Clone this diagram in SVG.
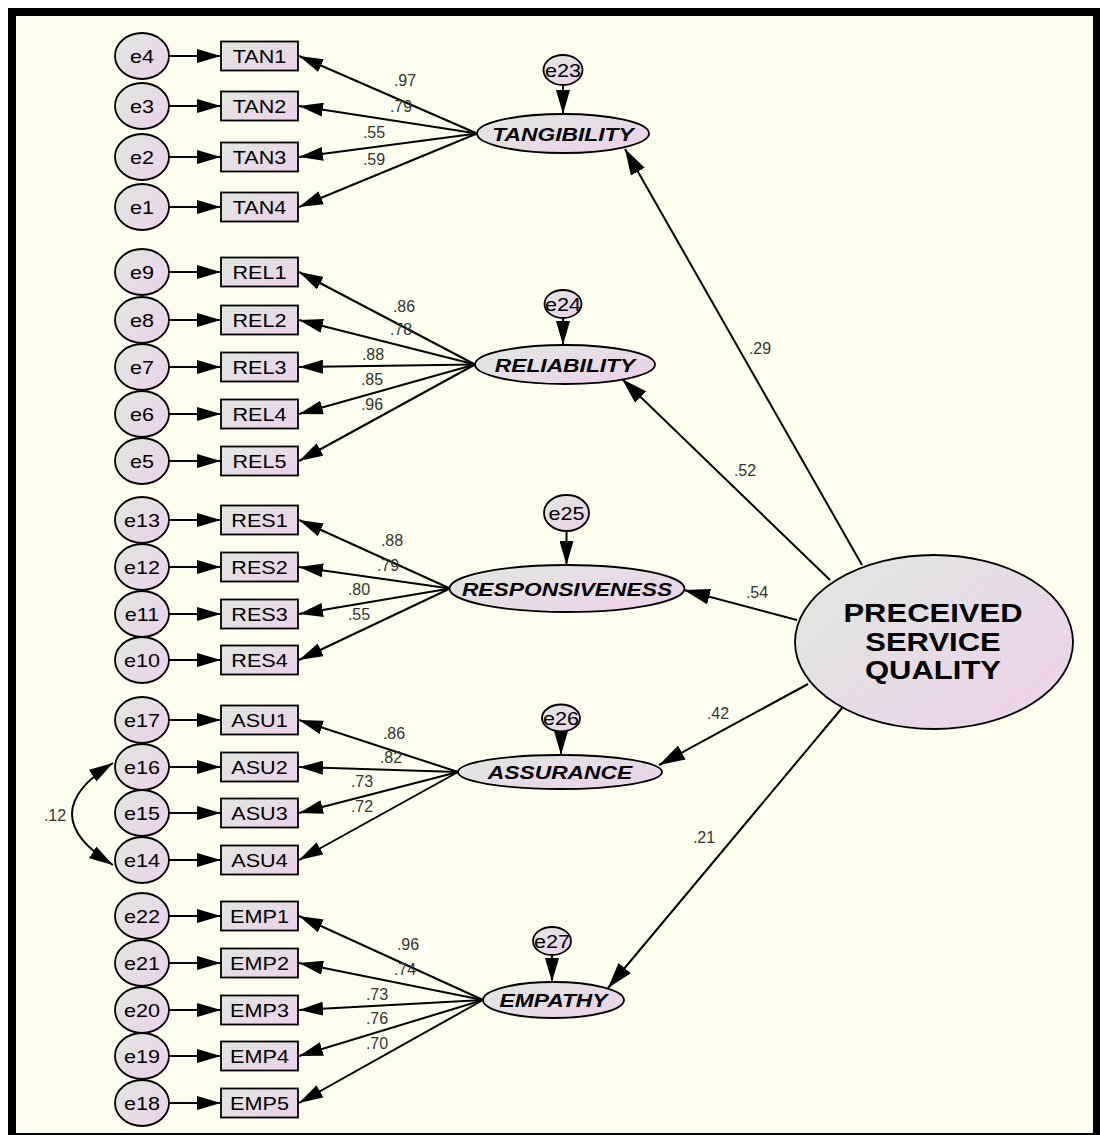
<svg xmlns="http://www.w3.org/2000/svg" width="1100" height="1135" viewBox="0 0 1100 1135">
  <defs>
    <linearGradient id="fillG" x1="0.1" y1="0.2" x2="0.9" y2="0.8">
      <stop offset="0" stop-color="#e1e5e1"/>
      <stop offset="1" stop-color="#ecd3e9"/>
    </linearGradient>
    <marker id="ah" markerUnits="userSpaceOnUse" markerWidth="24" markerHeight="14" refX="24" refY="7" orient="auto-start-reverse">
      <path d="M0,0 L24,7 L0,14 Z" fill="#000"/>
    </marker>
    <marker id="ahBig" markerUnits="userSpaceOnUse" markerWidth="26" markerHeight="16" refX="26" refY="8" orient="auto">
      <path d="M0,0 L26,8 L0,16 Z" fill="#000"/>
    </marker>
    <style>
      .shape { fill: url(#fillG); stroke: #000; stroke-width: 1.8; }
      .lbl { font-family: "Liberation Sans", Arial, sans-serif; font-size: 18px; fill: #000; text-anchor: middle; }
      .lat { font-family: "Liberation Sans", Arial, sans-serif; font-size: 19px; font-weight: bold; font-style: italic; fill: #000; text-anchor: middle; }
      .big { font-family: "Liberation Sans", Arial, sans-serif; font-size: 25px; font-weight: bold; fill: #000; text-anchor: middle; }
      .coef { font-family: "Liberation Sans", Arial, sans-serif; font-size: 16px; fill: #333; text-anchor: middle; }
      .conn line, .conn path { stroke: #000; stroke-width: 2; fill: none; marker-end: url(#ah); }
      .conn .sp { marker-end: url(#ahBig); }
    </style>
  </defs>

  <!-- frame and canvas -->
  <rect x="0" y="0" width="1100" height="1135" fill="#fff"/>
  <rect x="8" y="8" width="1092" height="1127" fill="#000"/>
  <rect x="16" y="16" width="1077" height="1117" fill="#feffef"/>

  <!-- connectors -->
  <g id="connectors" class="conn">
    <!-- error terms to indicators -->
    <line x1="169" y1="56" x2="221" y2="56"/>
    <line x1="169" y1="106" x2="221" y2="106"/>
    <line x1="169" y1="157" x2="221" y2="157"/>
    <line x1="169" y1="207" x2="221" y2="207"/>
    <line x1="169" y1="272" x2="221" y2="272"/>
    <line x1="169" y1="320" x2="221" y2="320"/>
    <line x1="169" y1="367" x2="221" y2="367"/>
    <line x1="169" y1="414" x2="221" y2="414"/>
    <line x1="169" y1="461" x2="221" y2="461"/>
    <line x1="169" y1="520" x2="221" y2="520"/>
    <line x1="169" y1="567" x2="221" y2="567"/>
    <line x1="169" y1="614" x2="221" y2="614"/>
    <line x1="169" y1="660" x2="221" y2="660"/>
    <line x1="169" y1="720" x2="221" y2="720"/>
    <line x1="169" y1="767" x2="221" y2="767"/>
    <line x1="169" y1="813" x2="221" y2="813"/>
    <line x1="169" y1="860" x2="221" y2="860"/>
    <line x1="169" y1="916" x2="221" y2="916"/>
    <line x1="169" y1="963" x2="221" y2="963"/>
    <line x1="169" y1="1010" x2="221" y2="1010"/>
    <line x1="169" y1="1056" x2="221" y2="1056"/>
    <line x1="169" y1="1103" x2="221" y2="1103"/>
    <!-- loadings -->
    <line x1="477" y1="133.5" x2="299" y2="56"/>
    <line x1="477" y1="133.5" x2="299" y2="106"/>
    <line x1="477" y1="133.5" x2="299" y2="157"/>
    <line x1="477" y1="133.5" x2="299" y2="207"/>
    <line x1="475" y1="364.5" x2="299" y2="272"/>
    <line x1="475" y1="364.5" x2="299" y2="320"/>
    <line x1="475" y1="364.5" x2="299" y2="367"/>
    <line x1="475" y1="364.5" x2="299" y2="414"/>
    <line x1="475" y1="364.5" x2="299" y2="461"/>
    <line x1="450" y1="588.5" x2="299" y2="520"/>
    <line x1="450" y1="588.5" x2="299" y2="567"/>
    <line x1="450" y1="588.5" x2="299" y2="614"/>
    <line x1="450" y1="588.5" x2="299" y2="660"/>
    <line x1="458" y1="772" x2="299" y2="720"/>
    <line x1="458" y1="772" x2="299" y2="767"/>
    <line x1="458" y1="772" x2="299" y2="813"/>
    <line x1="458" y1="772" x2="299" y2="860"/>
    <line x1="483" y1="1000" x2="299" y2="916"/>
    <line x1="483" y1="1000" x2="299" y2="963"/>
    <line x1="483" y1="1000" x2="299" y2="1010"/>
    <line x1="483" y1="1000" x2="299" y2="1056"/>
    <line x1="483" y1="1000" x2="299" y2="1103"/>
    <!-- disturbances to latent factors -->
    <line x1="563" y1="85" x2="563" y2="114"/>
    <line x1="563" y1="318" x2="563" y2="345"/>
    <line x1="566.5" y1="531" x2="566.5" y2="565"/>
    <line x1="561" y1="731.5" x2="561" y2="755"/>
    <line x1="552" y1="955" x2="552" y2="982"/>
    <!-- second-order paths -->
    <line class="sp" x1="862" y1="565" x2="625" y2="149"/>
    <line class="sp" x1="830" y1="580" x2="622" y2="379"/>
    <line class="sp" x1="797" y1="620" x2="684" y2="590"/>
    <line class="sp" x1="808" y1="684" x2="659" y2="765"/>
    <line class="sp" x1="842" y1="708" x2="608" y2="988"/>
    <!-- error covariance e16 / e14 -->
    <path d="M113,763 Q31,814 113,865" style="marker-start:url(#ah)"/>
  </g>

  <!-- path coefficients -->
  <g id="coefficients">
    <text class="coef" x="405" y="85.5">.97</text>
    <text class="coef" x="401" y="111.5">.79</text>
    <text class="coef" x="374" y="137.5">.55</text>
    <text class="coef" x="374" y="164.5">.59</text>
    <text class="coef" x="404" y="311.5">.86</text>
    <text class="coef" x="401" y="334.5">.78</text>
    <text class="coef" x="373" y="359.5">.88</text>
    <text class="coef" x="372" y="384.5">.85</text>
    <text class="coef" x="372" y="409.5">.96</text>
    <text class="coef" x="392" y="545.5">.88</text>
    <text class="coef" x="388" y="570.5">.79</text>
    <text class="coef" x="359" y="594.5">.80</text>
    <text class="coef" x="359" y="619.5">.55</text>
    <text class="coef" x="394" y="738.5">.86</text>
    <text class="coef" x="391" y="762.5">.82</text>
    <text class="coef" x="362" y="786.5">.73</text>
    <text class="coef" x="362" y="811.5">.72</text>
    <text class="coef" x="408" y="949.5">.96</text>
    <text class="coef" x="405" y="974.5">.74</text>
    <text class="coef" x="377" y="999.5">.73</text>
    <text class="coef" x="377" y="1023.5">.76</text>
    <text class="coef" x="377" y="1048.5">.70</text>
    <text class="coef" x="760" y="353.5">.29</text>
    <text class="coef" x="745" y="475.5">.52</text>
    <text class="coef" x="757" y="597.5">.54</text>
    <text class="coef" x="718" y="718.5">.42</text>
    <text class="coef" x="704" y="842.5">.21</text>
    <text class="coef" x="55" y="820.5">.12</text>
  </g>

  <!-- measurement errors -->
  <g id="e4"><ellipse class="shape" cx="142" cy="56" rx="27" ry="23"/><text class="lbl" transform="matrix(1.2 0 0 1 142 62.5)">e4</text></g>
  <g id="e3"><ellipse class="shape" cx="142" cy="106" rx="27" ry="23"/><text class="lbl" transform="matrix(1.2 0 0 1 142 112.5)">e3</text></g>
  <g id="e2"><ellipse class="shape" cx="142" cy="157" rx="27" ry="23"/><text class="lbl" transform="matrix(1.2 0 0 1 142 163.5)">e2</text></g>
  <g id="e1"><ellipse class="shape" cx="142" cy="207" rx="27" ry="23"/><text class="lbl" transform="matrix(1.2 0 0 1 142 213.5)">e1</text></g>
  <g id="e9"><ellipse class="shape" cx="142" cy="272" rx="27" ry="23"/><text class="lbl" transform="matrix(1.2 0 0 1 142 278.5)">e9</text></g>
  <g id="e8"><ellipse class="shape" cx="142" cy="320" rx="27" ry="23"/><text class="lbl" transform="matrix(1.2 0 0 1 142 326.5)">e8</text></g>
  <g id="e7"><ellipse class="shape" cx="142" cy="367" rx="27" ry="23"/><text class="lbl" transform="matrix(1.2 0 0 1 142 373.5)">e7</text></g>
  <g id="e6"><ellipse class="shape" cx="142" cy="414" rx="27" ry="23"/><text class="lbl" transform="matrix(1.2 0 0 1 142 420.5)">e6</text></g>
  <g id="e5"><ellipse class="shape" cx="142" cy="461" rx="27" ry="23"/><text class="lbl" transform="matrix(1.2 0 0 1 142 467.5)">e5</text></g>
  <g id="e13"><ellipse class="shape" cx="142" cy="520" rx="27" ry="23"/><text class="lbl" transform="matrix(1.2 0 0 1 142 526.5)">e13</text></g>
  <g id="e12"><ellipse class="shape" cx="142" cy="567" rx="27" ry="23"/><text class="lbl" transform="matrix(1.2 0 0 1 142 573.5)">e12</text></g>
  <g id="e11"><ellipse class="shape" cx="142" cy="614" rx="27" ry="23"/><text class="lbl" transform="matrix(1.2 0 0 1 142 620.5)">e11</text></g>
  <g id="e10"><ellipse class="shape" cx="142" cy="660" rx="27" ry="23"/><text class="lbl" transform="matrix(1.2 0 0 1 142 666.5)">e10</text></g>
  <g id="e17"><ellipse class="shape" cx="142" cy="720" rx="27" ry="23"/><text class="lbl" transform="matrix(1.2 0 0 1 142 726.5)">e17</text></g>
  <g id="e16"><ellipse class="shape" cx="142" cy="767" rx="27" ry="23"/><text class="lbl" transform="matrix(1.2 0 0 1 142 773.5)">e16</text></g>
  <g id="e15"><ellipse class="shape" cx="142" cy="813" rx="27" ry="23"/><text class="lbl" transform="matrix(1.2 0 0 1 142 819.5)">e15</text></g>
  <g id="e14"><ellipse class="shape" cx="142" cy="860" rx="27" ry="23"/><text class="lbl" transform="matrix(1.2 0 0 1 142 866.5)">e14</text></g>
  <g id="e22"><ellipse class="shape" cx="142" cy="916" rx="27" ry="23"/><text class="lbl" transform="matrix(1.2 0 0 1 142 922.5)">e22</text></g>
  <g id="e21"><ellipse class="shape" cx="142" cy="963" rx="27" ry="23"/><text class="lbl" transform="matrix(1.2 0 0 1 142 969.5)">e21</text></g>
  <g id="e20"><ellipse class="shape" cx="142" cy="1010" rx="27" ry="23"/><text class="lbl" transform="matrix(1.2 0 0 1 142 1016.5)">e20</text></g>
  <g id="e19"><ellipse class="shape" cx="142" cy="1056" rx="27" ry="23"/><text class="lbl" transform="matrix(1.2 0 0 1 142 1062.5)">e19</text></g>
  <g id="e18"><ellipse class="shape" cx="142" cy="1103" rx="27" ry="23"/><text class="lbl" transform="matrix(1.2 0 0 1 142 1109.5)">e18</text></g>

  <!-- observed indicators -->
  <g id="TAN1"><rect class="shape" x="221" y="41.5" width="77" height="29"/><text class="lbl" transform="matrix(1.2 0 0 1 259.5 62.5)">TAN1</text></g>
  <g id="TAN2"><rect class="shape" x="221" y="91.5" width="77" height="29"/><text class="lbl" transform="matrix(1.2 0 0 1 259.5 112.5)">TAN2</text></g>
  <g id="TAN3"><rect class="shape" x="221" y="142.5" width="77" height="29"/><text class="lbl" transform="matrix(1.2 0 0 1 259.5 163.5)">TAN3</text></g>
  <g id="TAN4"><rect class="shape" x="221" y="192.5" width="77" height="29"/><text class="lbl" transform="matrix(1.2 0 0 1 259.5 213.5)">TAN4</text></g>
  <g id="REL1"><rect class="shape" x="221" y="257.5" width="77" height="29"/><text class="lbl" transform="matrix(1.2 0 0 1 259.5 278.5)">REL1</text></g>
  <g id="REL2"><rect class="shape" x="221" y="305.5" width="77" height="29"/><text class="lbl" transform="matrix(1.2 0 0 1 259.5 326.5)">REL2</text></g>
  <g id="REL3"><rect class="shape" x="221" y="352.5" width="77" height="29"/><text class="lbl" transform="matrix(1.2 0 0 1 259.5 373.5)">REL3</text></g>
  <g id="REL4"><rect class="shape" x="221" y="399.5" width="77" height="29"/><text class="lbl" transform="matrix(1.2 0 0 1 259.5 420.5)">REL4</text></g>
  <g id="REL5"><rect class="shape" x="221" y="446.5" width="77" height="29"/><text class="lbl" transform="matrix(1.2 0 0 1 259.5 467.5)">REL5</text></g>
  <g id="RES1"><rect class="shape" x="221" y="505.5" width="77" height="29"/><text class="lbl" transform="matrix(1.2 0 0 1 259.5 526.5)">RES1</text></g>
  <g id="RES2"><rect class="shape" x="221" y="552.5" width="77" height="29"/><text class="lbl" transform="matrix(1.2 0 0 1 259.5 573.5)">RES2</text></g>
  <g id="RES3"><rect class="shape" x="221" y="599.5" width="77" height="29"/><text class="lbl" transform="matrix(1.2 0 0 1 259.5 620.5)">RES3</text></g>
  <g id="RES4"><rect class="shape" x="221" y="645.5" width="77" height="29"/><text class="lbl" transform="matrix(1.2 0 0 1 259.5 666.5)">RES4</text></g>
  <g id="ASU1"><rect class="shape" x="221" y="705.5" width="77" height="29"/><text class="lbl" transform="matrix(1.2 0 0 1 259.5 726.5)">ASU1</text></g>
  <g id="ASU2"><rect class="shape" x="221" y="752.5" width="77" height="29"/><text class="lbl" transform="matrix(1.2 0 0 1 259.5 773.5)">ASU2</text></g>
  <g id="ASU3"><rect class="shape" x="221" y="798.5" width="77" height="29"/><text class="lbl" transform="matrix(1.2 0 0 1 259.5 819.5)">ASU3</text></g>
  <g id="ASU4"><rect class="shape" x="221" y="845.5" width="77" height="29"/><text class="lbl" transform="matrix(1.2 0 0 1 259.5 866.5)">ASU4</text></g>
  <g id="EMP1"><rect class="shape" x="221" y="901.5" width="77" height="29"/><text class="lbl" transform="matrix(1.2 0 0 1 259.5 922.5)">EMP1</text></g>
  <g id="EMP2"><rect class="shape" x="221" y="948.5" width="77" height="29"/><text class="lbl" transform="matrix(1.2 0 0 1 259.5 969.5)">EMP2</text></g>
  <g id="EMP3"><rect class="shape" x="221" y="995.5" width="77" height="29"/><text class="lbl" transform="matrix(1.2 0 0 1 259.5 1016.5)">EMP3</text></g>
  <g id="EMP4"><rect class="shape" x="221" y="1041.5" width="77" height="29"/><text class="lbl" transform="matrix(1.2 0 0 1 259.5 1062.5)">EMP4</text></g>
  <g id="EMP5"><rect class="shape" x="221" y="1088.5" width="77" height="29"/><text class="lbl" transform="matrix(1.2 0 0 1 259.5 1109.5)">EMP5</text></g>

  <!-- first-order factors with disturbances -->
  <g id="e23"><ellipse class="shape" cx="563" cy="70" rx="19.5" ry="15"/><text class="lbl" transform="matrix(1.2 0 0 1 563 76.5)">e23</text></g>
  <g id="TANGIBILITY"><ellipse class="shape" cx="563" cy="133.5" rx="86" ry="19.5"/><text class="lat" transform="matrix(1.2 0 0 1 563 140.5)">TANGIBILITY</text></g>
  <g id="e24"><ellipse class="shape" cx="563" cy="304" rx="18.5" ry="14"/><text class="lbl" transform="matrix(1.2 0 0 1 563 310.5)">e24</text></g>
  <g id="RELIABILITY"><ellipse class="shape" cx="565" cy="364.5" rx="90" ry="19.5"/><text class="lat" transform="matrix(1.2 0 0 1 565 371.5)">RELIABILITY</text></g>
  <g id="e25"><ellipse class="shape" cx="566.5" cy="513" rx="22.5" ry="18"/><text class="lbl" transform="matrix(1.2 0 0 1 566.5 519.5)">e25</text></g>
  <g id="RESPONSIVENESS"><ellipse class="shape" cx="567" cy="588.5" rx="117.5" ry="23.5"/><text class="lat" transform="matrix(1.2 0 0 1 567 595.5)">RESPONSIVENESS</text></g>
  <g id="e26"><ellipse class="shape" cx="561" cy="718" rx="19" ry="13.5"/><text class="lbl" transform="matrix(1.2 0 0 1 561 724.5)">e26</text></g>
  <g id="ASSURANCE"><ellipse class="shape" cx="560" cy="772" rx="102" ry="17"/><text class="lat" transform="matrix(1.2 0 0 1 560 779)">ASSURANCE</text></g>
  <g id="e27"><ellipse class="shape" cx="552" cy="941" rx="19" ry="14"/><text class="lbl" transform="matrix(1.2 0 0 1 552 947.5)">e27</text></g>
  <g id="EMPATHY"><ellipse class="shape" cx="553.5" cy="1000" rx="70.5" ry="18"/><text class="lat" transform="matrix(1.2 0 0 1 553.5 1007)">EMPATHY</text></g>

  <!-- second-order factor -->
  <g id="PSQ">
    <ellipse class="shape" cx="934" cy="642" rx="139" ry="87"/>
    <text class="big" transform="matrix(1.24 0 0 1 933 622)">PRECEIVED</text>
    <text class="big" transform="matrix(1.24 0 0 1 933 651)">SERVICE</text>
    <text class="big" transform="matrix(1.24 0 0 1 933 679)">QUALITY</text>
  </g>
</svg>
